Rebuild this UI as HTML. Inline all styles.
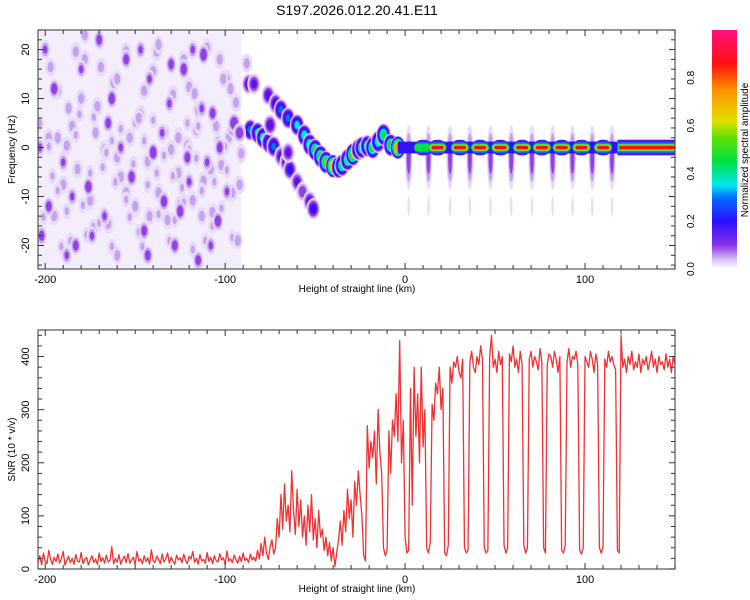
<!DOCTYPE html>
<html><head><meta charset="utf-8"><style>
html,body{margin:0;padding:0;background:#fff;}
svg{display:block;font-family:"Liberation Sans",sans-serif;}
</style></head><body>
<svg id="fig" width="750" height="600" viewBox="0 0 750 600" xmlns="http://www.w3.org/2000/svg">
<defs>
<clipPath id="clipTop"><rect x="38" y="30" width="637" height="239"/></clipPath>
<clipPath id="clipBot"><rect x="38" y="330" width="637" height="239"/></clipPath>
<linearGradient id="cbar" x1="0" y1="1" x2="0" y2="0">
<stop offset="0" stop-color="#ffffff"/><stop offset="0.04" stop-color="#d8c0f4"/>
<stop offset="0.1" stop-color="#8a30e8"/><stop offset="0.2" stop-color="#2a10ff"/>
<stop offset="0.3" stop-color="#0070ff"/><stop offset="0.35" stop-color="#00e8f0"/>
<stop offset="0.45" stop-color="#00e040"/><stop offset="0.55" stop-color="#60e000"/>
<stop offset="0.62" stop-color="#e0e000"/><stop offset="0.75" stop-color="#ff9000"/>
<stop offset="0.86" stop-color="#ff1010"/><stop offset="1" stop-color="#ff1080"/>
</linearGradient>
</defs>
<text x="357" y="15" font-size="14" text-anchor="middle" fill="#000">S197.2026.012.20.41.E11</text>
<g id="top"></g>
<g id="bot"></g>
<g id="cb">
<rect x="712" y="30" width="25" height="239" fill="url(#cbar)"/>
<text transform="translate(748,150) rotate(-90)" font-size="10" text-anchor="middle">Normalized spectral amplitude</text>
</g>
</svg>
<script>
// ---------- data: SNR ----------
const snrStartKm = -204;
const snrValues = [
12,25,8,30,15,10,35,18,9,22,
14,28,11,19,33,7,16,24,12,20,
9,27,15,13,31,10,18,22,8,17,
25,12,19,9,30,14,21,11,26,13,
16,42,10,20,13,27,9,18,24,12,
29,11,17,22,8,33,15,19,10,25,
14,21,9,36,16,12,24,18,10,28,
13,19,30,11,22,15,9,26,17,21,
12,28,16,10,24,19,33,13,20,9,
27,15,18,11,31,14,22,10,25,16,
13,29,17,21,9,34,15,19,12,26,
18,11,24,14,30,16,20,12,28,17,
22,15,35,19,48,25,60,30,18,42,
55,28,40,95,60,140,75,160,90,120,
70,185,110,65,150,80,130,60,100,45,
120,70,140,55,95,40,110,60,75,35,
60,25,50,15,40,5,30,55,90,45,
110,70,150,95,130,60,165,120,185,140,
100,25,15,270,190,240,210,260,160,300,
220,180,40,25,35,260,180,280,250,330,
240,430,200,280,60,30,35,340,120,380,
250,330,200,380,230,300,40,30,50,310,
280,350,330,380,300,340,30,25,45,380,
350,390,380,400,370,360,395,40,30,35,
390,410,380,370,400,385,420,395,40,30,
35,400,440,380,395,370,410,385,400,45,
30,40,405,390,420,380,395,370,410,385,
45,30,40,395,410,380,400,390,375,415,
390,40,30,385,405,400,380,410,395,370,
400,35,30,45,390,415,380,400,395,410,
385,35,28,40,400,390,380,410,395,370,
405,385,40,30,42,395,380,410,390,400,
385,375,35,30,440,380,395,370,400,385,
410,375,390,380,405,370,395,385,400,375,
390,410,380,395,370,400,385,390,375,405,
380,395,370,400,385];
const snrTicks = [0,100,200,300,400];
const kmTicks = [-200,-100,0,100];
const hzTicks = [-20,-10,0,10,20];
const cbTicks = [0.0,0.2,0.4,0.6,0.8];

// ---------- data: spectrogram blobs (km, Hz, amplitude) ----------
const noiseKm = [-200,-195,-190,-187,-183,-180,-176,-172,-170,-167,-163,-160,-158,-155,-152,-148,-145,-142,-140,-137,-134,-131,-128,-126,-123,-120,-117,-115,-112,-110,-107,-104,-101,-99,-96,-93,-198,-193,-185,-178,-174,-165,-150,-143,-135,-125,-118,-108,-103,-188,-160,-130,-113,-97,-147,-121,-203,-202];
const noiseHz = [20,12,-3,8,-20,16,-8,3,22,-14,10,-22,0,18,-6,6,-17,14,-1,21,-11,9,-20,2,16,-7,11,-23,19,-3,7,-15,14,-9,4,-19,-12,2,-10,23,-18,5,-12,-22,3,-13,20,-20,0,-22,14,17,8,12,20,-2,0,-18];
const noiseAmp = [.12,.15,.12,.1,.14,.12,.15,.1,.14,.12,.15,.1,.12,.14,.15,.1,.14,.12,.16,.1,.15,.12,.14,.1,.15,.12,.1,.14,.16,.12,.14,.15,.1,.12,.14,.1,.14,.1,.12,.1,.12,.14,.1,.14,.12,.15,.12,.12,.14,.12,.1,.14,.12,.1,.12,.14,.12,.14];

const ridgeKm = [-87,-84,-86,-82,-79,-76,-73,-76,-72,-69,-65,-60,-56,-53,-50,-47,-44,-40,-37,-35,-32,-29,-26,-24,-21,-18,-15,-12,-8,-4,-95,-92,-75,-69,-66,-64,-60,-57,-53,-51,-65];
const ridgeHz = [13,13,3.6,3,2,1,0.2,10.7,9,7.7,6,4.6,2.5,0.6,-0.5,-1.8,-3,-3.8,-4,-3.6,-2.5,-1.4,-0.4,0,0.3,0,1.2,2.6,0.5,0,5,3,4.6,-1.8,-3,-4.5,-7,-9,-11,-12.5,-1];
const ridgeAmp = [.2,.18,.32,.35,.38,.3,.3,.2,.22,.3,.3,.35,.38,.42,.48,.5,.55,.8,.5,.45,.45,.6,.4,.45,.42,.5,.4,.45,.5,.8,.16,.15,.2,.2,.2,.22,.18,.15,.2,.22,.18];

const dashKm = [10,18,30.5,41.7,53,65,76,87,98,110];
const dashAmp = [.6,.95,.95,.95,.95,.95,.95,.95,.95,.95];
const spikeKm = [2,13,25,36,47.5,59,70.5,82,93,104,115];
const bandStartKm = 118;

// ---------- axes ----------
const X0=38, X1=675, KM0=-204, KM1=150;
const xs = km => X0 + (km-KM0)/(KM1-KM0)*(X1-X0);
const T0=30, T1=269, HZ0=-24.8, HZ1=24;
const ysHz = hz => T1 - (hz-HZ0)/(HZ1-HZ0)*(T1-T0);
const B0=330, B1=569, S1=450;
const ysS = v => B1 - v/S1*(B1-B0);
const CB0=269, CB1=30;
const ysCb = v => CB0 - v*(CB0-CB1);

const NS="http://www.w3.org/2000/svg";
function mk(tag, attrs, parent){const e=document.createElementNS(NS,tag);for(const k in attrs)e.setAttribute(k,attrs[k]);parent.appendChild(e);return e;}

const cmapStops=[[0,'#ffffff'],[0.04,'#e8dcf8'],[0.08,'#c7a2ee'],[0.12,'#9040e6'],[0.17,'#6010e8'],[0.22,'#3010ff'],[0.3,'#0070ff'],[0.35,'#00e8f0'],[0.45,'#00e040'],[0.55,'#60e000'],[0.62,'#e0e000'],[0.75,'#ff9000'],[0.86,'#ff1010'],[1,'#ff1080']];
function cmap(v){let c=cmapStops[0][1];for(const s of cmapStops){if(v>=s[0])c=s[1];}return c;}

const topG=document.getElementById('top');
const botG=document.getElementById('bot');

// ---------- top panel ----------
const tc=mk('g',{'clip-path':'url(#clipTop)'},topG);


const bg=mk('rect',{x:xs(-204),y:T0,width:xs(-91)-xs(-204),height:T1-T0,fill:'#f4eefc'},tc);


const levels=[0.04,0.08,0.12,0.17,0.22,0.3,0.35,0.45,0.55,0.62,0.75,0.86];
function blob(km,hz,amp,rxKm,ryHz,name){
  const g=mk('g',{},tc);
  
  
  for(const l of levels){ if(l>amp) break;
    const f=1.25-0.85*(l/amp);
    mk('ellipse',{cx:xs(km),cy:ysHz(hz),rx:Math.max(1.2,rxKm*1.8*f),ry:Math.max(1.2,ryHz*4.9*f),fill:cmap(l)},g);
  }
}
for(let i=0;i<noiseKm.length;i++) blob(noiseKm[i]+5,noiseHz[i]*-0.8+2,0.09,3.5,2.2,'noise-blob');
for(let i=0;i<noiseKm.length;i++) blob(noiseKm[i]-3,noiseHz[i]*0.6-7,0.08,3,2,'noise-blob');
for(let i=0;i<noiseKm.length;i++) blob(noiseKm[i],noiseHz[i],noiseAmp[i],3,2,'noise-blob');
for(let i=0;i<spikeKm.length;i++){ blob(spikeKm[i],-2,0.14,2,6.5,'freq-spread-spike'); blob(spikeKm[i],-12,0.06,1,3,'freq-spread-spike'); }
for(let i=0;i<ridgeKm.length;i++) blob(ridgeKm[i],ridgeHz[i],ridgeAmp[i],3.5,2,'ridge-blob');
const band=[[0.17,1.6],[0.3,1.1],[0.45,0.8],[0.62,0.6],[0.86,0.4]];
const bl=mk('rect',{x:xs(-4),y:ysHz(1.2),width:xs(bandStartKm)-xs(-4),height:ysHz(-1.2)-ysHz(1.2),fill:cmap(0.22)},tc);


for(let i=0;i<dashKm.length;i++){
  const g=mk('g',{},tc);
  
  
  for(const [l,h] of band){ if(l>dashAmp[i]) break;
    const w=(l>0.8?3.5:l>0.5?4.2:5)*1.8;
    mk('rect',{x:xs(dashKm[i])-w,y:ysHz(h),width:2*w,height:ysHz(-h)-ysHz(h),rx:Math.min(w,(ysHz(-h)-ysHz(h))/2),fill:cmap(l)},g);
  }
}
const cont=mk('g',{},tc);


for(const [l,h] of band){ mk('rect',{x:xs(bandStartKm)+(l>0.5?2:0),y:ysHz(h),width:xs(KM1)-xs(bandStartKm),height:ysHz(-h)-ysHz(h),fill:cmap(l)},cont); }

function axes(parent,Ytop,Ybot,yTicks,yfun,yMinorStep,yMin,yMax,ylab,xlabY){
  const fr=mk('rect',{x:X0,y:Ytop,width:X1-X0,height:Ybot-Ytop,fill:'none',stroke:'#555',"stroke-width":1.2},parent);
  
  
  const tg=mk('g',{stroke:'#333','stroke-width':1},parent);
  for(let k=-200;k<=KM1;k+=10){const x=xs(k),len=(k%100===0)?6:4;
    mk('line',{x1:x,y1:Ybot,x2:x,y2:Ybot-len},tg);mk('line',{x1:x,y1:Ytop,x2:x,y2:Ytop+len},tg);}
  for(let v=Math.ceil(yMin/yMinorStep)*yMinorStep;v<=yMax;v+=yMinorStep){const y=yfun(v),len=(yTicks.indexOf(v)>=0)?6:4;
    mk('line',{x1:X0,y1:y,x2:X0+len,y2:y},tg);mk('line',{x1:X1,y1:y,x2:X1-len,y2:y},tg);}
  for(const k of kmTicks){const t=mk('text',{x:xs(k),y:Ybot+14,'font-size':11,'text-anchor':'middle'},parent);t.textContent=k;
    
    }
  for(const v of yTicks){const t=mk('text',{transform:`translate(${X0-9},${yfun(v)}) rotate(-90)`,'font-size':11,'text-anchor':'middle'},parent);t.textContent=v;
    
    }
  const xl=mk('text',{x:357,y:xlabY,'font-size':10,'text-anchor':'middle'},parent);xl.textContent='Height of straight line (km)';
  
  
  const yl=mk('text',{transform:`translate(15,${(Ytop+Ybot)/2}) rotate(-90)`,'font-size':10,'text-anchor':'middle'},parent);yl.textContent=ylab;
  
  
}
axes(topG,T0,T1,hzTicks,ysHz,2,-24,24,'Frequency (Hz)',292);

// ---------- bottom panel ----------
const bc=mk('g',{'clip-path':'url(#clipBot)'},botG);
let d='';
for(let i=0;i<snrValues.length;i++){d+=(i?'L':'M')+xs(snrStartKm+i).toFixed(2)+' '+ysS(snrValues[i]).toFixed(2);}
const ln=mk('path',{d:d,fill:'none',stroke:'#f03232','stroke-width':1.3,'stroke-linejoin':'round'},bc);


axes(botG,B0,B1,snrTicks,ysS,20,0,440,'SNR (10 * v/v)',592);

// ---------- colorbar labels ----------
const cb=document.getElementById('cb');
for(const v of cbTicks){const t=mk('text',{transform:`translate(${694},${ysCb(v)}) rotate(-90)`,'font-size':10,'text-anchor':'middle'},cb);t.textContent=v.toFixed(1);
  
  }
</script>
</body></html>
